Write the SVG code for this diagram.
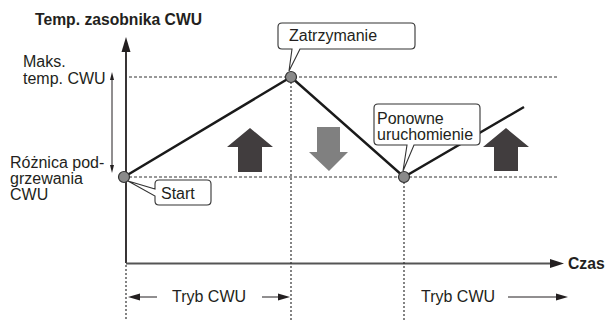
<svg xmlns="http://www.w3.org/2000/svg" width="607" height="320" viewBox="0 0 607 320">
<style>
text{font-family:"Liberation Sans",Arial,sans-serif;font-size:16px;fill:#231f20}
.b{font-weight:bold;font-size:15.7px}
.dash{stroke:#333;stroke-width:1;stroke-dasharray:3 2;fill:none}
.dot{stroke:#333;stroke-width:1.2;stroke-dasharray:2 2;fill:none}
.graph{stroke:#1a1a1a;stroke-width:2.5;fill:none;stroke-linejoin:miter}
.pt{fill:#8a8a8a;stroke:#333;stroke-width:1.2}
.call{fill:#fff;stroke:#333;stroke-width:1.1}
.thin{stroke:#231f20;stroke-width:1;fill:none}
.dark{fill:#413d3e}
.grey{fill:#808080}
</style>

<g id="axes">
<line x1="126" y1="263" x2="126" y2="52" stroke="#231f20" stroke-width="1.8"/>
<path d="M126,37 L130.5,52 L121.5,52 Z" fill="#231f20"/>
<line x1="126" y1="263.5" x2="552" y2="263.5" stroke="#555" stroke-width="2"/>
<path d="M564,263.5 L550,259 L550,268 Z" fill="#231f20"/>
<text x="35" y="25" class="b">Temp. zasobnika CWU</text>
<text x="568" y="269" class="b">Czas</text>
</g>

<g id="guides">
<line class="dash" x1="129" y1="77" x2="557" y2="77"/>
<line class="dash" x1="129" y1="177" x2="557" y2="177"/>
<line class="dot" x1="291" y1="82" x2="291" y2="320"/>
<line class="dot" x1="404" y1="182" x2="404" y2="320"/>
<line class="dot" x1="126" y1="265" x2="126" y2="320"/>
</g>

<g id="range">
<line class="thin" x1="112" y1="80" x2="112" y2="168"/>
<path d="M112,72 L114,80 L110,80 Z" fill="#231f20"/>
<path d="M112,173 L114,165 L110,165 Z" fill="#231f20"/>
<text x="23" y="67" font-size="15.5">Maks.<tspan x="23" y="84">temp. CWU</tspan></text>
<text x="10" y="168">Różnica pod-<tspan x="10" y="184">grzewania</tspan><tspan x="10" y="200">CWU</tspan></text>
</g>

<g id="connectors">
<polyline class="graph" points="124,177 291,77 404,177 524,107"/>
</g>

<g id="arrows-big">
<path class="dark" d="M250,128 L273,147 L262,147 L262,172 L238,172 L238,147 L227,147 Z"/>
<path class="grey" d="M317,127 L340,127 L340,152 L348,152 L329,171 L309,152 L317,152 Z"/>
<path class="dark" d="M506,128 L529,147 L518,147 L518,171 L494,171 L494,147 L483,147 Z"/>
</g>

<g id="node-start">
<path class="call" d="M159,180 H207 Q211,180 211,184 V201 Q211,205 207,205 H159 Q155,205 155,201 V196 L128,181 L155,189 V184 Q155,180 159,180 Z"/>
<text x="161" y="199">Start</text>
<circle class="pt" cx="124" cy="177" r="5.5"/>
</g>

<g id="node-zatrzymanie">
<path class="call" d="M282,23 H411 Q415,23 415,27 V45 Q415,49 411,49 H300 L289,71 L292,49 H282 Q278,49 278,45 V27 Q278,23 282,23 Z"/>
<text x="289" y="41">Zatrzymanie</text>
<circle class="pt" cx="291" cy="77" r="5.5"/>
</g>

<g id="node-ponowne">
<path class="call" d="M378,104 H476 Q480,104 480,108 V141 Q480,145 476,145 H414 L403,171 L407,145 H378 Q374,145 374,141 V108 Q374,104 378,104 Z"/>
<text x="377" y="124">Ponowne<tspan x="377" y="140">uruchomienie</tspan></text>
<circle class="pt" cx="404" cy="177" r="5.5"/>
</g>

<g id="modes">
<line class="thin" x1="157" y1="297" x2="136" y2="297" stroke-width="1.5"/>
<path d="M128,297 L140,293.5 L140,300.5 Z" fill="#231f20"/>
<text x="172" y="302">Tryb CWU</text>
<line class="thin" x1="262" y1="297" x2="282" y2="297" stroke-width="1.5"/>
<path d="M290,297 L278,293.5 L278,300.5 Z" fill="#231f20"/>
<text x="421" y="302">Tryb CWU</text>
<line class="thin" x1="508" y1="297" x2="558" y2="297" stroke-width="1.5"/>
<path d="M568,297 L556,293.5 L556,300.5 Z" fill="#231f20"/>
</g>
</svg>
